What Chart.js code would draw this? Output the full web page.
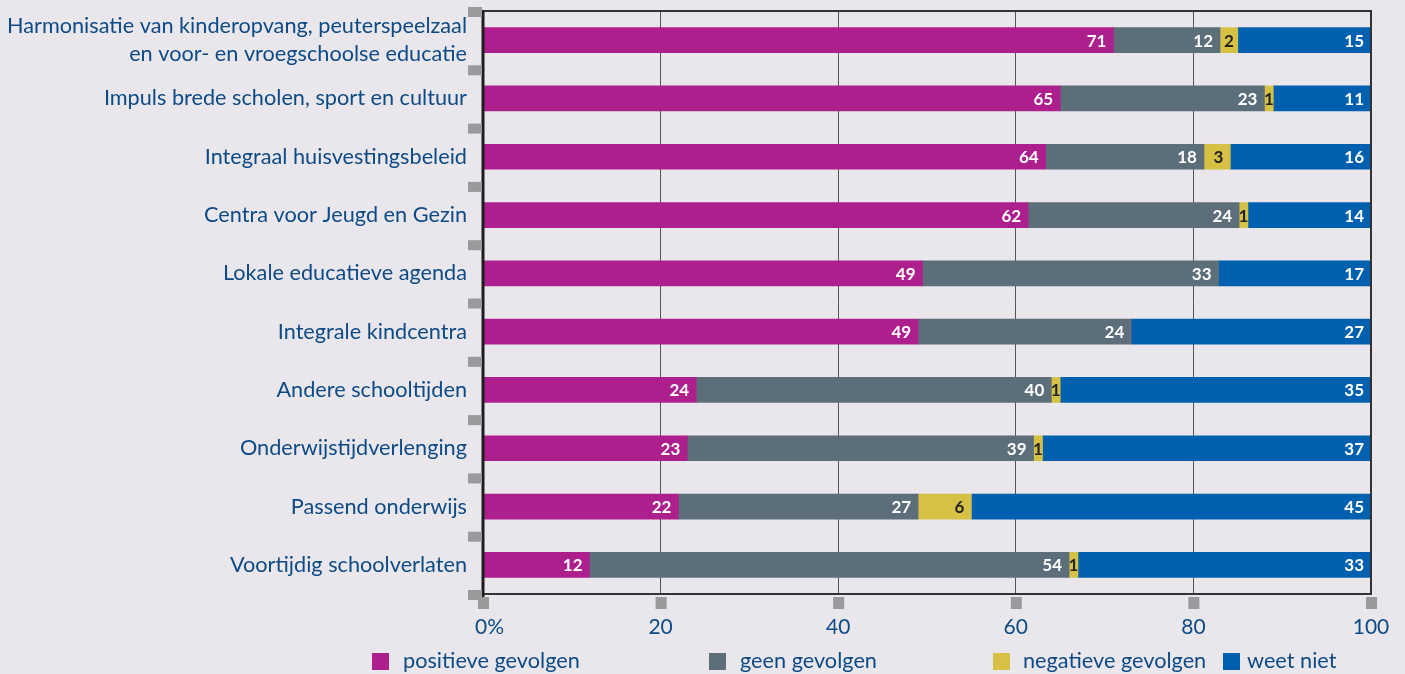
<!DOCTYPE html>
<html>
<head>
<meta charset="utf-8">
<script src="https://cdn.jsdelivr.net/npm/chart.js@4.4.0/dist/chart.umd.min.js"></script>
<style>
  html, body { margin: 0; padding: 0; background: #e9e7ec; }
  #wrap { width: 1405px; height: 674px; position: relative; }
</style>
</head>
<body>
<div id="wrap"><canvas id="c" width="1405" height="674"></canvas></div>
<script>
const categories = [
  ["Harmonisatie van kinderopvang, peuterspeelzaal", "en voor- en vroegschoolse educatie"],
  "Impuls brede scholen, sport en cultuur",
  "Integraal huisvestingsbeleid",
  "Centra voor Jeugd en Gezin",
  "Lokale educatieve agenda",
  "Integrale kindcentra",
  "Andere schooltijden",
  "Onderwijstijdverlenging",
  "Passend onderwijs",
  "Voortijdig schoolverlaten"
];
const positief = [71, 65, 64, 62, 49, 49, 24, 23, 22, 12];
const geen     = [12, 23, 18, 24, 33, 24, 40, 39, 27, 54];
const negatief = [2, 1, 3, 1, null, null, 1, 1, 6, 1];
const weetNiet = [15, 11, 16, 14, 17, 27, 35, 37, 45, 33];
const seriesNames = ["positieve gevolgen", "geen gevolgen", "negatieve gevolgen", "weet niet"];
const xTicks = [0, 20, 40, 60, 80, 100];
const xTickLabels = ["\u2002\u20090%", "20", "40", "60", "80", "100"];

const colors = ["#ae1f8e", "#5b6e7a", "#d6c144", "#0060b0"];
const labelColors = ["#ffffff", "#ffffff", "#222222", "#ffffff"];
const raw = [positief, geen, negatief, weetNiet];
const totals = categories.map((_, i) => raw.reduce((s, a) => s + (a[i] || 0), 0));
const shares = raw.map(a => a.map((v, i) => v == null ? null : v / totals[i] * 100));

const FONT = "Lato, 'Open Sans', sans-serif";
const BLUE_TEXT = "#0d4a86";

const bgPlugin = {
  id: 'bg',
  beforeDraw(chart) {
    const c = chart.ctx;
    c.save();
    c.fillStyle = '#e9e7ec';
    c.fillRect(0, 0, chart.width, chart.height);
    c.restore();
  }
};

const labelPlugin = {
  id: 'vals',
  afterDatasetsDraw(chart) {
    const c = chart.ctx;
    c.save();
    c.font = "bold 17px " + FONT;
    c.textBaseline = 'middle';
    chart.data.datasets.forEach((ds, di) => {
      const meta = chart.getDatasetMeta(di);
      meta.data.forEach((el, i) => {
        const v = raw[di][i];
        if (v == null) return;
        const txt = String(v);
        const tw = c.measureText(txt).width;
        const x1 = Math.min(el.x, el.base), x2 = Math.max(el.x, el.base);
        const w = x2 - x1;
        const pad = 7;
        c.fillStyle = labelColors[di];
        if (tw + 2 * pad <= w) {
          c.textAlign = 'right';
          c.fillText(txt, x2 - pad, el.y + 1);
        } else {
          c.textAlign = 'center';
          c.fillText(txt, (x1 + x2) / 2, el.y + 1);
        }
      });
    });
    c.restore();
  }
};

const framePlugin = {
  id: 'frame',
  afterDraw(chart) {
    const c = chart.ctx;
    const a = chart.chartArea;
    const xs = chart.scales.x;
    c.save();
    c.strokeStyle = '#333333';
    c.lineWidth = 2;
    c.beginPath();
    c.moveTo(a.left, a.top);
    c.lineTo(a.right, a.top);
    c.lineTo(a.right, a.bottom);
    c.lineTo(a.left, a.bottom);
    c.stroke();
    c.strokeStyle = '#1e1e1e';
    c.lineWidth = 3;
    c.beginPath();
    c.moveTo(a.left, a.top - 1);
    c.lineTo(a.left, a.bottom + 4);
    c.stroke();
    c.fillStyle = '#9a9a9c';
    const n = categories.length;
    const step = (a.bottom - a.top) / n;
    for (let i = 0; i <= n; i++) {
      const y = a.top + i * step;
      c.fillRect(a.left - 15, y - 4, 14, 10);
    }
    xTicks.forEach(t => {
      const x = xs.getPixelForValue(t);
      c.fillRect(x - 5, a.bottom + 3, 11, 12);
    });
    const items = [
      { sq: 372, tx: 403 },
      { sq: 709, tx: 740 },
      { sq: 993, tx: 1023 },
      { sq: 1223, tx: 1247 }
    ];
    c.font = "21.7px " + FONT;
    c.textBaseline = 'middle';
    c.textAlign = 'left';
    items.forEach((it, i) => {
      c.fillStyle = colors[i];
      c.fillRect(it.sq, 653, 17, 17);
      c.fillStyle = BLUE_TEXT;
      c.fillText(seriesNames[i], it.tx, 661);
    });
    c.restore();
  }
};

const ctx = document.getElementById('c').getContext('2d');
new Chart(ctx, {
  type: 'bar',
  data: {
    labels: categories,
    datasets: seriesNames.map((name, i) => ({
      label: name,
      data: shares[i],
      backgroundColor: colors[i],
      borderWidth: 0,
      barThickness: 25,
      categoryPercentage: 1,
      barPercentage: 1
    }))
  },
  options: {
    indexAxis: 'y',
    responsive: false,
    animation: false,
    layout: { padding: { top: 11, right: 34, left: 0, bottom: 0 } },
    plugins: {
      legend: { display: false },
      tooltip: { enabled: false }
    },
    scales: {
      x: {
        stacked: true,
        min: 0,
        max: 100,
        afterFit(scale) { scale.height = 80; scale.paddingLeft = 0; scale.paddingRight = 0; },
        afterBuildTicks(scale) { scale.ticks = xTicks.map(v => ({ value: v })); },
        border: { display: false },
        grid: {
          drawTicks: false,
          color: (c) => (c.tick && (c.tick.value === 0 || c.tick.value === 100)) ? 'rgba(0,0,0,0)' : '#555555',
          lineWidth: 1
        },
        ticks: {
          padding: 21,
          autoSkip: false,
          color: BLUE_TEXT,
          font: { family: FONT, size: 21 },
          callback: (v, idx) => xTickLabels[xTicks.indexOf(v)],
          maxRotation: 0
        }
      },
      y: {
        stacked: true,
        afterFit(scale) { scale.width = 483; scale.paddingTop = 0; scale.paddingBottom = 0; },
        border: { display: false },
        grid: { display: false, drawTicks: false },
        ticks: {
          padding: 16,
          autoSkip: false,
          color: BLUE_TEXT,
          font: { family: FONT, size: 21.7, lineHeight: 1.27 }
        }
      }
    }
  },
  plugins: [bgPlugin, labelPlugin, framePlugin]
});
</script>
</body>
</html>
